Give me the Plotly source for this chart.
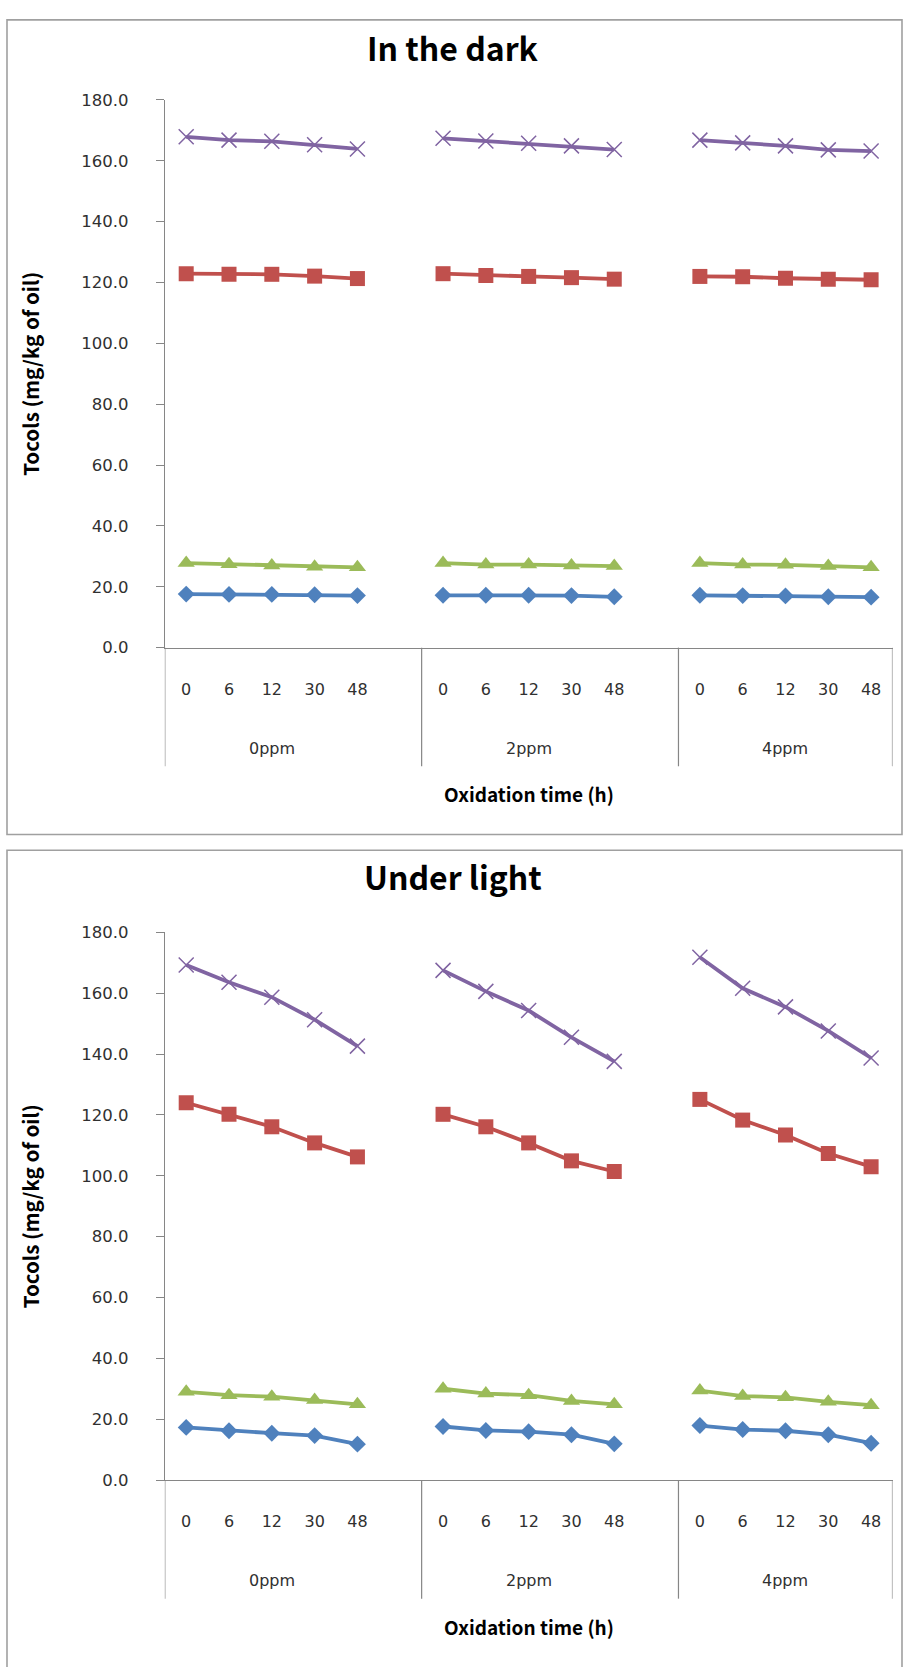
import plotly.graph_objects as go

# ---------------- data ----------------
times = ["0", "6", "12", "30", "48"]
groups = ["0ppm", "2ppm", "4ppm"]
panel_titles = ["In the dark", "Under light"]
y_ticks = [0, 20, 40, 60, 80, 100, 120, 140, 160, 180]

series_names = ["Series 1", "Series 2", "Series 3", "Series 4"]
series_colors = ["#4F81BD", "#C0504D", "#9BBB59", "#8064A2"]
series_symbols = ["diamond", "square", "triangle-up", "x-thin-open"]
series_marker_sizes = [13, 15, 15, 15]

# In the dark (values per group: 0ppm, 2ppm, 4ppm; times 0,6,12,30,48)
dark_s1 = [17.6, 17.5, 17.5, 17.4, 17.1,  17.2, 17.2, 17.2, 17.1, 16.7,  17.2, 17.1, 17.0, 16.7, 16.6]
dark_s2 = [122.9, 122.7, 122.7, 122.1, 121.3,  122.9, 122.3, 122.0, 121.6, 121.1,  122.0, 121.9, 121.4, 121.1, 120.9]
dark_s3 = [27.8, 27.4, 27.0, 26.6, 26.4,  27.8, 27.3, 27.3, 27.0, 26.8,  27.8, 27.3, 27.2, 26.8, 26.4]
dark_s4 = [167.9, 166.8, 166.4, 165.3, 163.9,  167.4, 166.5, 165.8, 164.9, 163.7,  166.8, 165.9, 164.9, 163.6, 163.2]

# Under light
light_s1 = [17.3, 16.2, 15.4, 14.6, 11.8,  17.6, 16.3, 15.9, 14.9, 11.9,  17.9, 16.6, 16.2, 14.9, 12.1]
light_s2 = [124.0, 120.2, 116.1, 110.8, 106.2,  120.2, 116.1, 110.8, 104.9, 101.4,  125.1, 118.3, 113.4, 107.3, 103.0]
light_s3 = [29.0, 27.9, 27.4, 26.3, 24.9,  30.0, 28.4, 27.9, 26.0, 24.9,  29.4, 27.6, 27.2, 25.7, 24.6]
light_s4 = [169.3, 163.6, 158.7, 151.3, 142.6,  167.5, 160.6, 154.3, 145.5, 137.6,  171.8, 161.6, 155.5, 147.6, 138.7]

panels = [[dark_s1, dark_s2, dark_s3, dark_s4], [light_s1, light_s2, light_s3, light_s4]]

# ---------------- layout constants ----------------
W, H = 906, 1667
FONT = "Noto Sans CJK KR"
TICK_FONT = "DejaVu Sans"
AXIS_GREY = "#868686"
TEXT = "#303030"
slots_per_group = len(times) + 1  # blank category between groups
n_slots = slots_per_group * (len(groups) - 1) + len(times)


def px_x(p):
    return p / W


def px_y(p):
    return 1 - p / H


# plot area pixel positions: (y of value 180, y of value 0)
plot_boxes = [(92.0, 646.0), (934.0, 1488.0)]
plot_x = (164.8, 892.5)
frame_boxes = [(11, 835), (851, 1720)]
title_y = [38, 877]

fig = go.Figure()

tick_positions = []
tick_texts = []
for g in range(len(groups)):
    for t in range(len(times)):
        tick_positions.append(g * slots_per_group + t)
        tick_texts.append(times[t])

annotations = []
shapes = []

for pi, panel in enumerate(panels):
    xa = "x" if pi == 0 else "x2"
    ya = "y" if pi == 0 else "y2"
    for si, vals in enumerate(panel):
        xs, ys = [], []
        for g in range(len(groups)):
            for t in range(len(times)):
                xs.append(g * slots_per_group + t)
                ys.append(vals[g * len(times) + t])
            xs.append(None)
            ys.append(None)
        is_x = series_symbols[si].startswith("x")
        fig.add_trace(go.Scatter(
            x=xs, y=ys, mode="lines+markers", name=series_names[si],
            xaxis=xa, yaxis=ya, showlegend=False,
            line=dict(color=series_colors[si], width=3.8),
            marker=dict(symbol=series_symbols[si], size=series_marker_sizes[si],
                        color=series_colors[si],
                        line=dict(color=series_colors[si], width=1.5 if is_x else 0)),
            connectgaps=False,
        ))

    ytop, ybot = plot_boxes[pi]
    dom_y = [px_y(ybot), px_y(ytop)]
    dom_x = [px_x(plot_x[0]), px_x(plot_x[1])]
    axis_suffix = "" if pi == 0 else "2"
    fig.update_layout(**{
        "xaxis" + axis_suffix: dict(
            domain=dom_x, anchor=ya, range=[-0.5, n_slots - 0.5],
            tickmode="array", tickvals=tick_positions, ticktext=tick_texts,
            showline=True, linecolor=AXIS_GREY, linewidth=1.2,
            ticks="", showgrid=False, zeroline=False,
            ticklabelstandoff=27,
            tickfont=dict(family=TICK_FONT, size=16, color=TEXT),
        ),
        "yaxis" + axis_suffix: dict(
            domain=dom_y, anchor=xa, range=[0, 180],
            tickmode="array", tickvals=y_ticks,
            ticktext=[f"{v:.1f}" for v in y_ticks],
            showline=True, linecolor=AXIS_GREY, linewidth=1.2,
            ticks="outside", ticklen=8, tickcolor=AXIS_GREY, tickwidth=1.2,
            showgrid=False, zeroline=False,
            ticklabelstandoff=24,
            tickfont=dict(family=TICK_FONT, size=16.5, color=TEXT),
        ),
    })

    # group divider lines (extend below the axis through the label band)
    for b in range(len(groups) + 1):
        if b < len(groups):
            xb = b * slots_per_group - 0.5
        else:
            xb = n_slots - 0.5
        shapes.append(dict(type="line", xref=xa, yref="paper",
                           x0=xb, x1=xb, y0=px_y(ybot), y1=px_y(ybot + 120),
                           line=dict(color=AXIS_GREY, width=1.2)))

    # group labels
    for g, gname in enumerate(groups):
        annotations.append(dict(
            x=g * slots_per_group + (len(times) - 1) / 2, xref=xa,
            y=px_y(ybot + 102), yref="paper", yanchor="middle",
            text=gname, showarrow=False,
            font=dict(family=TICK_FONT, size=16, color=TEXT)))

    # x axis title
    annotations.append(dict(
        x=0.5, xref=xa + " domain", y=px_y(ybot + 148), yref="paper",
        yanchor="middle", text="<b>Oxidation time (h)</b>", showarrow=False,
        font=dict(family=FONT, size=19, color="#000000")))

    # y axis title
    annotations.append(dict(
        x=px_x(30), xref="paper", y=0.5, yref=ya + " domain",
        xanchor="center", yanchor="middle", textangle=-90,
        text="<b>Tocols (mg/kg of oil)</b>", showarrow=False,
        font=dict(family=FONT, size=20.5, color="#000000")))

    # panel title
    annotations.append(dict(
        x=px_x(453), xref="paper", y=px_y(title_y[pi]), yref="paper",
        yanchor="middle", text=f"<b>{panel_titles[pi]}</b>", showarrow=False,
        font=dict(family=FONT, size=32, color="#000000")))

    # chart frame
    fy0, fy1 = frame_boxes[pi]
    shapes.append(dict(type="rect", xref="paper", yref="paper",
                       x0=px_x(7), x1=px_x(902), y0=px_y(fy1), y1=px_y(fy0),
                       line=dict(color="#a0a0a0", width=1.6), layer="below"))

fig.update_layout(
    width=W, height=H,
    margin=dict(l=0, r=0, t=0, b=0),
    paper_bgcolor="white", plot_bgcolor="white",
    annotations=annotations, shapes=shapes,
    font=dict(family=FONT, color=TEXT),
)

fig.write_html("out.html")
